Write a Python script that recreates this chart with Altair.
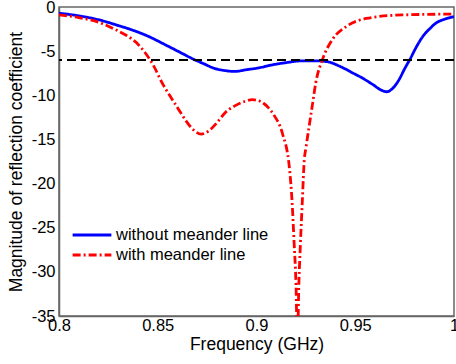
import altair as alt
import pandas as pd

# ---- data ----
freq_without = [0.800, 0.810, 0.821, 0.830, 0.837, 0.845, 0.854, 0.861, 0.868, 0.874,
                0.878, 0.884, 0.889, 0.895, 0.901, 0.907, 0.915, 0.923, 0.930, 0.936,
                0.942, 0.949, 0.954, 0.959, 0.963, 0.966, 0.969, 0.972, 0.975, 0.978,
                0.981, 0.984, 0.988, 0.991, 0.995, 1.000]
mag_without = [-0.7, -1.0, -1.5, -2.1, -2.6, -3.3, -4.3, -5.1, -5.9, -6.5,
               -6.9, -7.2, -7.3, -7.1, -6.9, -6.6, -6.3, -6.1, -6.1, -6.2,
               -6.7, -7.5, -8.1, -8.8, -9.4, -9.6, -9.2, -8.3, -7.0, -5.8,
               -4.5, -3.4, -2.4, -1.8, -1.4, -1.1]

freq_with = [0.800, 0.810, 0.821, 0.828, 0.834, 0.839, 0.844, 0.848, 0.852, 0.856,
             0.860, 0.864, 0.868, 0.872, 0.876, 0.880, 0.884, 0.889, 0.894, 0.898,
             0.902, 0.906, 0.909, 0.9131, 0.9167, 0.918, 0.919, 0.920, 0.9207, 0.9215,
             0.9222, 0.9232, 0.9242, 0.925, 0.9268, 0.9285, 0.930, 0.9333, 0.9384, 0.9455,
             0.9556, 0.9737, 1.000]
mag_with = [-0.9, -1.2, -1.8, -2.5, -3.2, -4.0, -5.3, -6.7, -8.5, -10.0,
            -11.4, -12.8, -13.9, -14.4, -14.0, -13.1, -12.0, -11.2, -10.7, -10.5,
            -10.7, -11.4, -12.3, -14.3, -18.3, -22.0, -26.5, -31.5, -38.0, -31.0,
            -27.0, -22.0, -17.3, -16.0, -13.3, -10.8, -8.6, -6.0, -3.7, -2.2,
            -1.3, -0.9, -0.8]

series_names = ["without meander line", "with meander line"]
series_colors = ["#0000FF", "#FF0000"]
threshold = [-6]

x_ticks = [0.8, 0.85, 0.9, 0.95, 1.0]
y_ticks = [0, -5, -10, -15, -20, -25, -30, -35]

rows = []
for f, m in zip(freq_without, mag_without):
    rows.append({"freq": f, "mag": m, "series": series_names[0]})
for f, m in zip(freq_with, mag_with):
    rows.append({"freq": f, "mag": m, "series": series_names[1]})
df = pd.DataFrame(rows)
df_thr = pd.DataFrame({"mag": threshold})

FONT = "Liberation Sans"

x_enc = alt.X("freq:Q",
              scale=alt.Scale(domain=[0.8, 1.0], nice=False, zero=False),
              axis=alt.Axis(values=x_ticks, title="Frequency (GHz)",
                            labelExpr="'' + datum.value",
                            grid=False, ticks=False, labelPadding=1,
                            titlePadding=2, labelFlush=False, labelOverlap=False))
y_enc = alt.Y("mag:Q",
              scale=alt.Scale(domain=[-35, 0], nice=False, zero=False),
              axis=alt.Axis(values=y_ticks, title="Magnitude of reflection coefficient",
                            labelExpr="'' + datum.value",
                            grid=False, ticks=False, labelPadding=4,
                            titlePadding=6, labelFlush=False, labelOverlap=False))

lines = alt.Chart(df).mark_line(strokeWidth=2.8, interpolate="monotone", clip=True).encode(
    x=x_enc,
    y=y_enc,
    color=alt.Color("series:N",
                    scale=alt.Scale(domain=series_names, range=series_colors),
                    legend=alt.Legend(title=None, orient="none", legendX=12, legendY=218,
                                      symbolType="stroke", symbolSize=1500,
                                      symbolStrokeWidth=2.8, labelFontSize=16.5,
                                      labelFont=FONT, rowPadding=0, clipHeight=20,
                                      labelOffset=3, labelColor="black")),
    strokeDash=alt.StrokeDash("series:N",
                              scale=alt.Scale(domain=series_names,
                                              range=[[1, 0], [8, 3, 2, 3]]),
                              legend=None),
    order=alt.Order("freq:Q"),
)

rule = alt.Chart(df_thr).mark_rule(color="black", strokeWidth=2, strokeDash=[9, 5]).encode(
    y=alt.Y("mag:Q")
)

chart = alt.layer(lines, rule).properties(
    width=395, height=309,
    background="white",
    autosize=alt.AutoSizeParams(type="none"),
    padding={"left": 59, "top": 7, "right": 2, "bottom": 48},
).configure_view(
    stroke="#666666", strokeWidth=1.5
).configure_axis(
    labelFont=FONT, titleFont=FONT, labelFontSize=16.5, titleFontSize=17.5,
    labelColor="black", titleColor="black", titleFontWeight="normal",
    domainColor="#666666", domainWidth=1.5,
)

chart.save("out.html", embed_options={"renderer": "svg", "actions": False})
